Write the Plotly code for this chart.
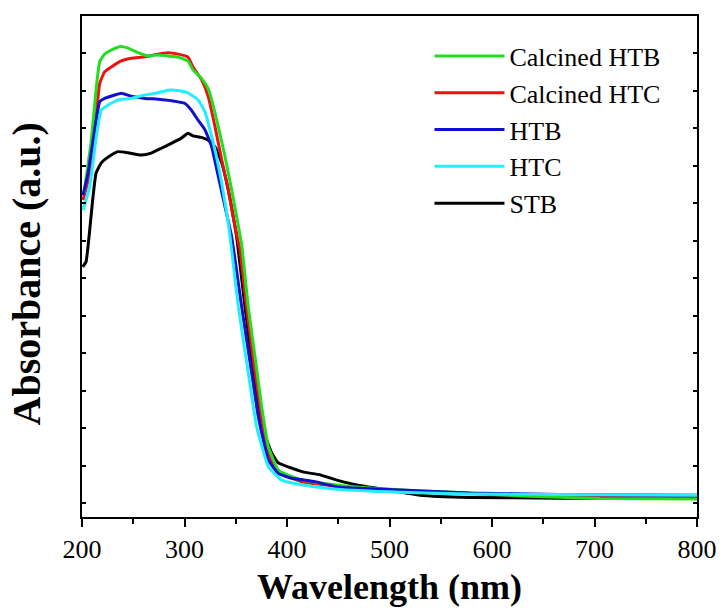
import plotly.graph_objects as go

# Wavelength (nm) and absorbance (a.u.)
cal_htb_x = [202.0, 209.1, 214.0, 217.3, 222.1, 228.6, 236.8, 244.9, 254.6, 264.4, 274.1, 283.9, 293.7,
             303.4, 308.3, 316.4, 322.9, 326.5, 333.0, 339.5, 346.0, 350.9, 355.8, 362.2, 368.8, 375.3,
             381.8, 391.5, 404.6, 415.6, 448.8, 481.0, 529.8, 578.5, 627.3, 705.4, 800.0]
cal_htb_y = [0.827, 0.968, 1.110, 1.177, 1.197, 1.208, 1.217, 1.213, 1.201, 1.192, 1.195, 1.192, 1.189,
             1.179, 1.155, 1.133, 1.106, 1.075, 1.003, 0.924, 0.835, 0.763, 0.688, 0.523, 0.390, 0.257,
             0.150, 0.088, 0.070, 0.061, 0.048, 0.040, 0.032, 0.027, 0.019, 0.012, 0.011]

cal_htc_x = [201.0, 205.9, 212.4, 217.3, 222.1, 228.6, 238.3, 248.1, 261.2, 274.1, 283.9, 293.7, 303.4,
             308.3, 316.8, 323.2, 329.8, 336.3, 342.7, 349.3, 354.1, 360.5, 366.8, 373.7, 380.0, 390.2,
             403.9, 415.6, 448.8, 481.0, 529.8, 627.3, 705.4, 800.0]
cal_htc_y = [0.808, 0.861, 0.995, 1.119, 1.150, 1.163, 1.179, 1.186, 1.190, 1.197, 1.201, 1.197, 1.189,
             1.163, 1.128, 1.083, 1.003, 0.915, 0.835, 0.737, 0.675, 0.523, 0.390, 0.257, 0.150, 0.083,
             0.067, 0.056, 0.045, 0.037, 0.029, 0.021, 0.020, 0.019]

htb_x = [201.0, 205.9, 212.4, 217.3, 222.1, 231.9, 238.3, 248.1, 261.2, 274.1, 287.1, 300.2, 306.6,
         313.2, 320.0, 326.5, 333.0, 339.5, 346.0, 355.8, 365.6, 372.0, 381.8, 391.5, 404.6, 427.3,
         448.8, 510.2, 578.5, 666.3, 800.0]
htb_y = [0.821, 0.880, 0.995, 1.070, 1.079, 1.088, 1.093, 1.085, 1.079, 1.077, 1.073, 1.066, 1.048,
         1.021, 0.995, 0.950, 0.870, 0.790, 0.710, 0.523, 0.346, 0.230, 0.115, 0.079, 0.066, 0.057,
         0.043, 0.035, 0.027, 0.023, 0.021]

htc_x = [201.0, 207.5, 214.0, 218.8, 225.4, 235.1, 248.1, 261.2, 274.1, 283.9, 293.7, 303.4, 313.2,
         320.0, 329.8, 336.3, 342.7, 346.0, 352.5, 362.2, 370.4, 381.8, 394.8, 415.6, 448.8, 510.2,
         578.5, 800.0]
htc_y = [0.781, 0.843, 0.977, 1.048, 1.061, 1.075, 1.079, 1.088, 1.094, 1.101, 1.100, 1.094, 1.075,
         1.043, 0.941, 0.853, 0.747, 0.675, 0.523, 0.347, 0.203, 0.097, 0.061, 0.048, 0.037, 0.029,
         0.024, 0.021]

stb_x = [200.7, 203.9, 210.4, 213.7, 218.8, 223.7, 228.6, 235.1, 244.9, 257.9, 267.6, 277.4, 287.1,
         296.9, 303.4, 308.3, 316.4, 322.9, 329.8, 336.3, 342.7, 347.6, 350.9, 359.0, 367.3, 373.7,
         385.1, 391.5, 404.6, 415.6, 432.2, 448.5, 468.0, 497.3, 529.8, 578.5, 666.3, 800.0]
stb_y = [0.630, 0.643, 0.808, 0.880, 0.907, 0.919, 0.928, 0.937, 0.934, 0.928, 0.933, 0.946, 0.959,
         0.973, 0.986, 0.979, 0.975, 0.968, 0.950, 0.907, 0.835, 0.763, 0.710, 0.523, 0.347, 0.221,
         0.133, 0.107, 0.093, 0.083, 0.075, 0.061, 0.048, 0.035, 0.021, 0.015, 0.013, 0.013]

x_tick_vals = [200, 300, 400, 500, 600, 700, 800]

series = [
    ("STB", stb_x, stb_y, "#000000", 5),
    ("Calcined HTC", cal_htc_x, cal_htc_y, "#ee1111", 2),
    ("Calcined HTB", cal_htb_x, cal_htb_y, "#22dd22", 1),
    ("HTB", htb_x, htb_y, "#1111cc", 3),
    ("HTC", htc_x, htc_y, "#22eeff", 4),
]

serif = "Liberation Serif"

fig = go.Figure()
for name, xs, ys, color, rank in series:
    fig.add_trace(go.Scatter(x=xs, y=ys, mode="lines", name=name, legendrank=rank,
                             line=dict(color=color, width=3, shape="spline", smoothing=0.4)))

fig.update_layout(
    width=724, height=608,
    margin=dict(l=82, r=27, t=16, b=91, autoexpand=False),
    plot_bgcolor="white", paper_bgcolor="white",
    font=dict(family=serif, color="black"),
    showlegend=True,
    legend=dict(x=0.565, y=0.967, xanchor="left", yanchor="top",
                font=dict(family=serif, size=26, color="black"),
                bgcolor="rgba(0,0,0,0)", itemwidth=70, tracegroupgap=0),
    xaxis=dict(range=[200, 800], tickvals=x_tick_vals, automargin=False,
               showline=True, linecolor="black", linewidth=2, mirror=True,
               ticks="outside", ticklen=8, tickwidth=2, tickcolor="black",
               minor=dict(ticks="outside", ticklen=5, tickwidth=2, dtick=50, tick0=200, tickcolor="black"),
               showgrid=False, zeroline=False,
               tickfont=dict(family=serif, size=26, color="black")),
    yaxis=dict(range=[-0.0373, 1.2987], dtick=0.1, tick0=0, automargin=False,
               showline=True, linecolor="black", linewidth=2, mirror="ticks",
               ticks="inside", ticklen=4, tickwidth=1.5, tickcolor="black",
               showticklabels=False, showgrid=False, zeroline=False),
    annotations=[
        dict(text="<b>Wavelength (nm)</b>", xref="paper", yref="paper", x=0.5, y=0,
             xanchor="center", yanchor="middle", yshift=-70, showarrow=False,
             font=dict(family=serif, size=36, color="black")),
        dict(text="<b>Absorbance (a.u.)</b>", xref="paper", yref="paper", x=0, y=0.5,
             xanchor="center", yanchor="middle", xshift=-56, yshift=-8, textangle=-90, showarrow=False,
             font=dict(family=serif, size=40, color="black")),
    ],
)

fig.write_html("out.html", config={"displayModeBar": False},
               post_script="document.body.style.margin='0';document.body.style.overflow='hidden';")
